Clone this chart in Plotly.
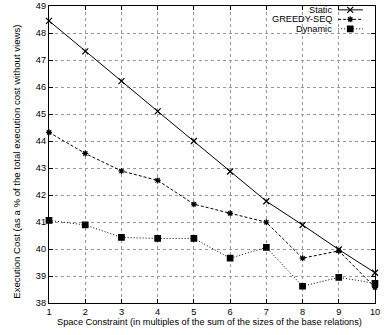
import plotly.graph_objects as go

x_vals = [1, 2, 3, 4, 5, 6, 7, 8, 9, 10]
static = [48.45, 47.32, 46.22, 45.10, 44.00, 42.87, 41.77, 40.89, 39.98, 39.12]
greedy_seq = [44.32, 43.54, 42.89, 42.54, 41.66, 41.32, 40.99, 39.66, 39.93, 38.58]
dynamic = [41.06, 40.89, 40.43, 40.39, 40.39, 39.66, 40.06, 38.62, 38.95, 38.73]
series_names = ["Static", "GREEDY-SEQ", "Dynamic"]
y_ticks = list(range(38, 50))
x_title = "Space Constraint (in multiples of the sum of the sizes of the base relations)"
y_title = "Execution Cost (as a % of the total execution cost without views)"

FONT = "Liberation Sans, Arial, sans-serif"
FS = 9.2

fig = go.Figure()
styles = [
    dict(dash="solid", symbol="x-thin-open", size=6),
    dict(dash="3px,2px", symbol="asterisk-open", size=5),
    dict(dash="1px,2px", symbol="square", size=5.5),
]
for name, ys, st in zip(series_names, [static, greedy_seq, dynamic], styles):
    fig.add_trace(go.Scatter(
        x=x_vals, y=ys, mode="lines+markers", name=name,
        line=dict(color="black", width=1, dash=st["dash"]),
        marker=dict(symbol=st["symbol"], size=st["size"], color="black",
                    line=dict(color="black", width=1.2)),
        showlegend=False, cliponaxis=False,
    ))

# custom gnuplot-style legend (text right-aligned, sample to the right)
leg_y = [0.987, 0.955, 0.923]
for name, ly, st in zip(series_names, leg_y, styles):
    fig.add_annotation(xref="paper", yref="paper", x=0.873, y=ly, text=name,
                       showarrow=False, xanchor="right", yanchor="middle",
                       font=dict(family=FONT, size=FS, color="black"))
    fig.add_shape(type="line", xref="paper", yref="paper", x0=0.887, x1=0.963,
                  y0=ly, y1=ly, line=dict(color="black", width=1, dash=st["dash"]))
    fig.add_trace(go.Scatter(
        x=[0.924], y=[ly], xaxis="x2", yaxis="y2", mode="markers",
        marker=dict(symbol=st["symbol"], size=st["size"], color="black",
                    line=dict(color="black", width=1.2)),
        showlegend=False, hoverinfo="skip", cliponaxis=False,
    ))

fig.add_annotation(xref="paper", yref="paper", x=0.491, y=-0.064, text=x_title,
                   showarrow=False, xanchor="center", yanchor="middle",
                   font=dict(family=FONT, size=FS, color="black"))
fig.add_annotation(xref="paper", yref="paper", x=-0.098, y=0.476, text=y_title,
                   showarrow=False, xanchor="center", yanchor="middle", textangle=-90,
                   font=dict(family=FONT, size=9.6, color="black"))

axis_common = dict(
    showline=True, linecolor="black", linewidth=1.2, mirror="ticks",
    ticks="inside", ticklen=4, tickcolor="black", tickwidth=1,
    showgrid=True, gridcolor="#999999", griddash="dot", gridwidth=1,
    zeroline=False, automargin=False,
    tickfont=dict(family=FONT, size=FS, color="black"),
)
fig.update_layout(
    width=385, height=335, autosize=False,
    margin=dict(l=49, r=10, t=6, b=32, autoexpand=False),
    paper_bgcolor="white", plot_bgcolor="white",
    xaxis=dict(range=[1, 10], tickvals=x_vals, **axis_common),
    yaxis=dict(range=[38, 49], tickvals=y_ticks, **axis_common),
    xaxis2=dict(range=[0, 1], domain=[0, 1], overlaying="x", visible=False, fixedrange=True),
    yaxis2=dict(range=[0, 1], domain=[0, 1], overlaying="y", visible=False, fixedrange=True),
    showlegend=False,
)
fig.write_html("out.html", config={"displayModeBar": False},
               post_script="document.body.style.margin='0';document.body.style.padding='0';")
